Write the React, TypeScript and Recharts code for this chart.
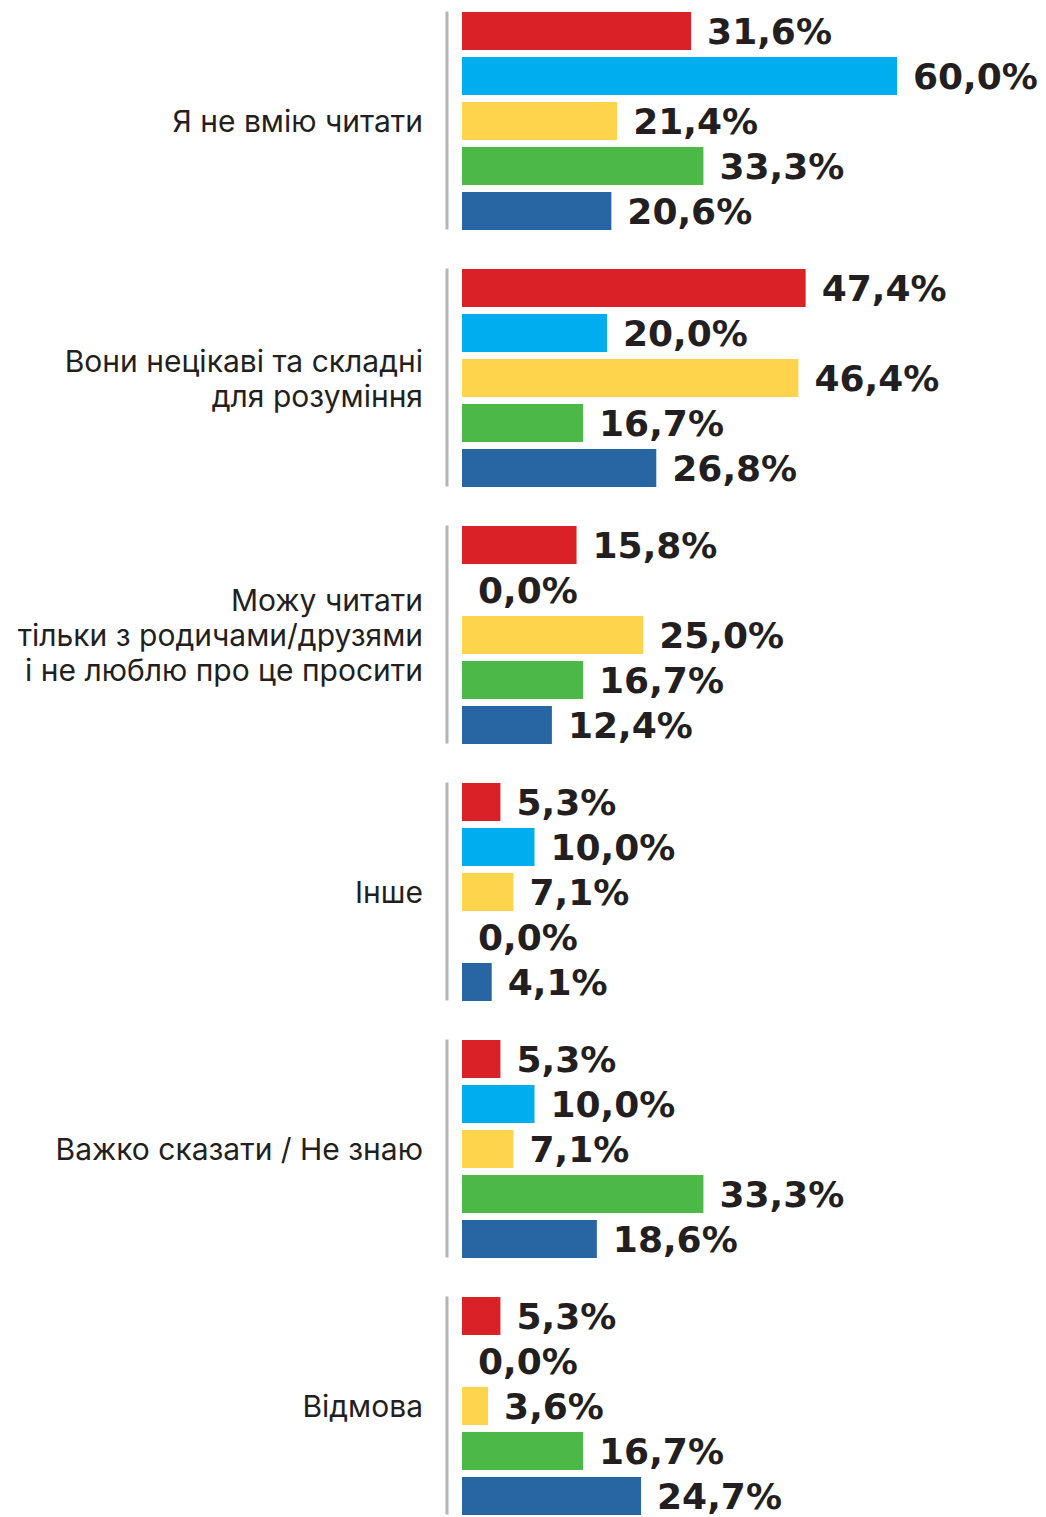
import { BarChart, Bar, XAxis, YAxis, LabelList } from 'recharts';

// Category labels (split into the lines shown on the left)
const categories = [
  ['Я не вмію читати'],
  ['Вони нецікаві та складні', 'для розуміння'],
  ['Можу читати', 'тільки з родичами/друзями', 'і не люблю про це просити'],
  ['Інше'],
  ['Важко сказати / Не знаю'],
  ['Відмова'],
];

// Five series, one value per category (%)
const redValues = [31.6, 47.4, 15.8, 5.3, 5.3, 5.3];
const cyanValues = [60.0, 20.0, 0.0, 10.0, 10.0, 0.0];
const yellowValues = [21.4, 46.4, 25.0, 7.1, 7.1, 3.6];
const greenValues = [33.3, 16.7, 16.7, 0.0, 33.3, 16.7];
const blueValues = [20.6, 26.8, 12.4, 4.1, 18.6, 24.7];

const series = [
  { key: 'red', color: '#da2128' },
  { key: 'cyan', color: '#00aeef' },
  { key: 'yellow', color: '#fed44d' },
  { key: 'green', color: '#4cb848' },
  { key: 'blue', color: '#2766a3' },
];

const data = categories.map((lines, i) => ({
  name: lines.join('\n'),
  red: redValues[i],
  cyan: cyanValues[i],
  yellow: yellowValues[i],
  green: greenValues[i],
  blue: blueValues[i],
}));

const formatPct = (v: any) => `${Number(v).toFixed(1).replace('.', ',')}%`;

const CategoryTick = (props: any) => {
  const { x, y, payload } = props;
  const lines: string[] = String(payload.value).split('\n');
  const lineH = 35;
  const startY = y + 1 - ((lines.length - 1) * lineH) / 2;
  return (
    <g>
      <line x1={x - 15} x2={x - 15} y1={y - 109} y2={y + 109} stroke="#b3b3b8" strokeWidth={3} />
      <text
        textAnchor="end"
        fill="#231f20"
        fontFamily="Inter, 'Noto Sans', sans-serif"
        fontSize={30}
      >
        {lines.map((line, i) => (
          <tspan key={i} x={x - 39} y={startY + i * lineH} dy="0.35em">
            {line}
          </tspan>
        ))}
      </text>
    </g>
  );
};

export default function App() {
  return (
    <div style={{ marginTop: -16 }}>
      <BarChart
        width={1038}
        height={1542}
        data={data}
        layout="vertical"
        margin={{ top: 0, right: 149, bottom: 0, left: 0 }}
        barSize={38}
        barGap={7}
        style={{ overflow: 'visible' }}
      >
        <XAxis type="number" domain={[0, 60]} hide />
        <YAxis
          type="category"
          dataKey="name"
          width={454}
          axisLine={false}
          tickLine={false}
          tickSize={0}
          tickMargin={0}
          interval={0}
          tick={<CategoryTick />}
        />
        {series.map((s) => (
          <Bar
            key={s.key}
            dataKey={s.key}
            fill={s.color}
            minPointSize={0.01}
            isAnimationActive={false}
          >
            <LabelList
              dataKey={s.key}
              position="right"
              offset={16}
              formatter={formatPct}
              fill="#231f20"
              fontFamily="'DejaVu Sans', sans-serif"
              fontWeight="bold"
              fontSize={36}
            />
          </Bar>
        ))}
      </BarChart>
    </div>
  );
}
